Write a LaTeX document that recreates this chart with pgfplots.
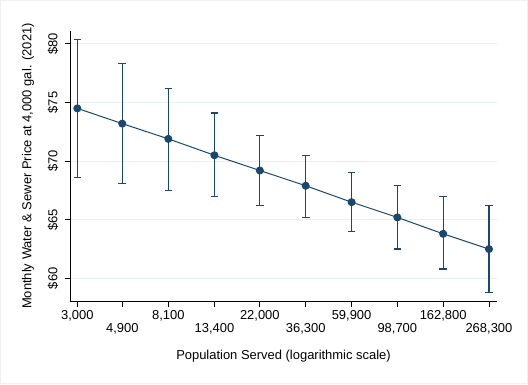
\documentclass[border=0pt]{standalone}
\usepackage{fontspec}
\setmainfont{Liberation Sans}
\usepackage{pgfplots}
\pgfplotsset{compat=1.18}
\definecolor{stnavy}{RGB}{26,71,111}
\definecolor{gridc}{RGB}{232,239,242}
\begin{document}
\begin{tikzpicture}[x=1bp,y=1bp]
\fill[white] (0,0) rectangle (528,384);
\draw[gray!12, line width=0.8bp] (0.5,0.5) rectangle (527.5,383.5);
\useasboundingbox (0,0) rectangle (528,384);
\begin{axis}[
  at={(70bp,83bp)}, anchor=south west,
  scale only axis, width=427bp, height=270bp,
  xmode=log, xmin=2770, xmax=293000,
  ymin=58.07, ymax=81.1,
  axis x line*=bottom, axis y line*=left,
  axis line style={black, line width=0.8bp, -},
  tick align=outside,
  major tick length=5.5bp,
  tick style={black, line width=0.8bp},
  minor tick num=0,
  xtick={3000,8100,22000,59900,162800},
  xticklabels={3{,}000,8{,}100,22{,}000,59{,}900,162{,}800},
  extra x ticks={4900,13400,36300,98700,268300},
  extra x tick labels={4{,}900,13{,}400,36{,}300,98{,}700,268{,}300},
  extra x tick style={xticklabel style={yshift=-13.3bp}, grid=none},
  ytick={60,65,70,75,80},
  yticklabels={\$60,\$65,\$70,\$75,\$80},
  yticklabel style={rotate=90, anchor=south, inner sep=6bp},
  ymajorgrids, grid style={gridc, line width=0.8bp},
  tick label style={font=\fontsize{13}{15}\selectfont},
  label style={font=\fontsize{13}{15}\selectfont},
  xlabel={Population Served (logarithmic scale)},
  ylabel={Monthly Water \& Sewer Price at 4,000 gal. (2021)},
  xlabel style={at={(axis description cs:0.5,-0.2026)}, anchor=center},
  ylabel style={at={(axis description cs:-0.0984,0.5)}, anchor=center, rotate=0},
  clip=false,
]
\addplot[stnavy, line width=1bp, mark=*, mark size=3.5bp,
  mark options={fill=stnavy, draw=stnavy},
  error bars/.cd, y dir=both, y explicit,
  error mark options={stnavy, line width=1.2bp, mark size=3.8bp, rotate=90},
  error bar style={stnavy, line width=1.2bp}]
table[x=x, y=y, y error plus expr=\thisrow{hi}-\thisrow{y}, y error minus expr=\thisrow{y}-\thisrow{lo}] {
x y lo hi
3000 74.5 68.6 80.4
4900 73.2 68.1 78.3
8100 71.9 67.5 76.2
13400 70.5 67.0 74.1
22000 69.2 66.2 72.2
36300 67.9 65.2 70.5
59900 66.5 64.0 69.0
98700 65.2 62.5 67.9
162800 63.8 60.8 67.0
268300 62.5 58.8 66.2
};
\end{axis}
\end{tikzpicture}
\end{document}
